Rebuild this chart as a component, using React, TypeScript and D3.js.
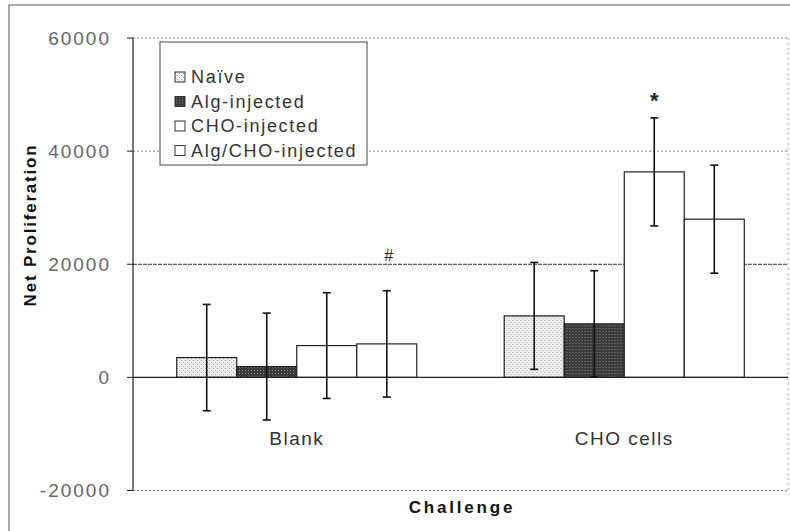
import React from "react";
import * as d3 from "d3";

const categories = ["Blank", "CHO cells"];
const series = ["Naïve", "Alg-injected", "CHO-injected", "Alg/CHO-injected"];
// mean net proliferation per category, one array per group
const blankValues = [3500, 1910, 5620, 5920];
const choValues = [10870, 9460, 36330, 27970];
const blankErrors = [9400, 9450, 9350, 9400];
const choErrors = [9450, 9400, 9550, 9550];
const yTicks = [-20000, 0, 20000, 40000, 60000];
const yTickLabels = ["-20000", "0", "20000", "40000", "60000"];
const markers = [
  { category: "Blank", series: "Alg/CHO-injected", text: "#" },
  { category: "CHO cells", series: "CHO-injected", text: "*" },
];

const W = 790;
const H = 531;
const left = 133;
const right = 788;
const yTop = 38;
const yBottom = 490.5;

const fills = ["url(#patNaive)", "url(#patAlg)", "#ffffff", "#ffffff"];
const font = "'Liberation Sans', Arial, sans-serif";

export default function App() {
  const y = d3.scaleLinear().domain([-20000, 60000]).range([yBottom, yTop]);
  const x0 = d3.scaleBand<string>().domain(categories).range([left, right]);
  const bw = x0.bandwidth();
  const gap = bw * 0.267;
  const x1 = d3.scaleBand<string>().domain(series).range([gap / 2, bw - gap / 2]);

  const rows = categories.map((c, ci) => ({
    category: c,
    values: ci === 0 ? blankValues : choValues,
    errors: ci === 0 ? blankErrors : choErrors,
  }));

  return (
    <svg
      width={W}
      height={H}
      style={{ position: "absolute", left: 0, top: 0, background: "#fff" }}
      fontFamily={font}
    >
      <defs>
        <pattern id="patNaive" width="4" height="4" patternUnits="userSpaceOnUse">
          <rect width="4" height="4" fill="#eeeeee" />
          <rect x="0" y="0" width="1" height="1" fill="#9a9a9a" />
          <rect x="2" y="2" width="1" height="1" fill="#b0b0b0" />
        </pattern>
        <pattern id="patAlg" width="3" height="3" patternUnits="userSpaceOnUse">
          <rect width="3" height="3" fill="#3a3a3a" />
          <rect x="1" y="1" width="1" height="1" fill="#8a8a8a" />
        </pattern>
      </defs>

      {/* outer chart frame */}
      <rect x={9} y={5} width={W + 20} height={H + 20} fill="none" stroke="#555" strokeWidth={1} />

      {/* gridlines */}
      {yTicks.filter((t) => t !== 0).map((t) => (
        <line
          key={t}
          x1={left}
          x2={right}
          y1={y(t)}
          y2={y(t)}
          stroke={t === 20000 ? "#333" : "#777"}
          strokeWidth={1}
          strokeDasharray={t === 20000 ? "4,1" : "2,2"}
        />
      ))}
      <line x1={right} x2={right} y1={yTop} y2={yBottom} stroke="#aaa" strokeDasharray="2,3" />

      {/* y axis */}
      <line x1={left} x2={left} y1={yTop} y2={yBottom} stroke="#222" strokeWidth={1.2} />
      {yTicks.map((t, i) => (
        <g key={t}>
          <line x1={left - 6} x2={left} y1={y(t)} y2={y(t)} stroke="#222" />
          <text
            x={left - 22}
            y={y(t)}
            dy="0.35em"
            textAnchor="end"
            fontSize={19}
            letterSpacing={2}
            fill="#666"
          >
            {yTickLabels[i]}
          </text>
        </g>
      ))}

      {/* bars */}
      {rows.map((r) => (
        <g key={r.category} transform={`translate(${x0(r.category)},0)`}>
          {series.map((s, si) => {
            const v = r.values[si];
            const bx = x1(s)!;
            return (
              <rect
                key={s}
                x={bx}
                y={Math.min(y(v), y(0))}
                width={x1.bandwidth()}
                height={Math.abs(y(0) - y(v))}
                fill={fills[si]}
                stroke="#222"
                strokeWidth={1.2}
              />
            );
          })}
        </g>
      ))}

      {/* zero line */}
      <line x1={left} x2={right} y1={y(0)} y2={y(0)} stroke="#222" strokeWidth={1.3} />

      {/* error bars */}
      {rows.map((r) => (
        <g key={r.category + "-err"} transform={`translate(${x0(r.category)},0)`}>
          {series.map((s, si) => {
            const cx = x1(s)! + x1.bandwidth() / 2;
            const v = r.values[si];
            const e = r.errors[si];
            return (
              <g key={s} stroke="#111" strokeWidth={1.6}>
                <line x1={cx} x2={cx} y1={y(v + e)} y2={y(v - e)} />
                <line x1={cx - 4} x2={cx + 4} y1={y(v + e)} y2={y(v + e)} />
                <line x1={cx - 4} x2={cx + 4} y1={y(v - e)} y2={y(v - e)} />
              </g>
            );
          })}
        </g>
      ))}

      {/* significance markers */}
      {markers.map((m) => {
        const ci = categories.indexOf(m.category);
        const si = series.indexOf(m.series);
        const r = rows[ci];
        const top = r.values[si] + r.errors[si];
        const cx = x0(m.category)! + x1(m.series)! + x1.bandwidth() / 2;
        const isStar = m.text === "*";
        return (
          <text
            key={m.text}
            x={cx + (isStar ? 0 : 2)}
            y={y(top) - (isStar ? 10 : 30)}
            textAnchor="middle"
            fontSize={isStar ? 22 : 16}
            fontWeight={isStar ? "bold" : "normal"}
            fill="#222"
          >
            {m.text}
          </text>
        );
      })}

      {/* category labels */}
      {categories.map((c) => (
        <text
          key={c}
          x={x0(c)! + bw / 2}
          y={438}
          dy="0.35em"
          textAnchor="middle"
          fontSize={19}
          letterSpacing={1.5}
          fill="#333"
        >
          {c}
        </text>
      ))}

      {/* axis titles */}
      <text
        x={462}
        y={507}
        dy="0.35em"
        textAnchor="middle"
        fontSize={17}
        fontWeight="bold"
        letterSpacing={2.8}
        fill="#111"
      >
        Challenge
      </text>
      <text
        transform={`translate(30,225) rotate(-90)`}
        dy="0.35em"
        textAnchor="middle"
        fontSize={17}
        fontWeight="bold"
        letterSpacing={1.8}
        fill="#111"
      >
        Net Proliferation
      </text>

      {/* legend */}
      <g>
        <rect x={160} y={42} width={207} height={123} fill="#fff" stroke="#444" strokeWidth={1} />
        {series.map((s, i) => (
          <g key={s} transform={`translate(175,${77 + i * 24.5})`}>
            <rect x={0} y={-5} width={10} height={10} fill={fills[i]} stroke="#333" strokeWidth={1} />
            <text x={16} y={0} dy="0.35em" fontSize={18} letterSpacing={1.7} fill="#333">
              {s}
            </text>
          </g>
        ))}
      </g>
    </svg>
  );
}
